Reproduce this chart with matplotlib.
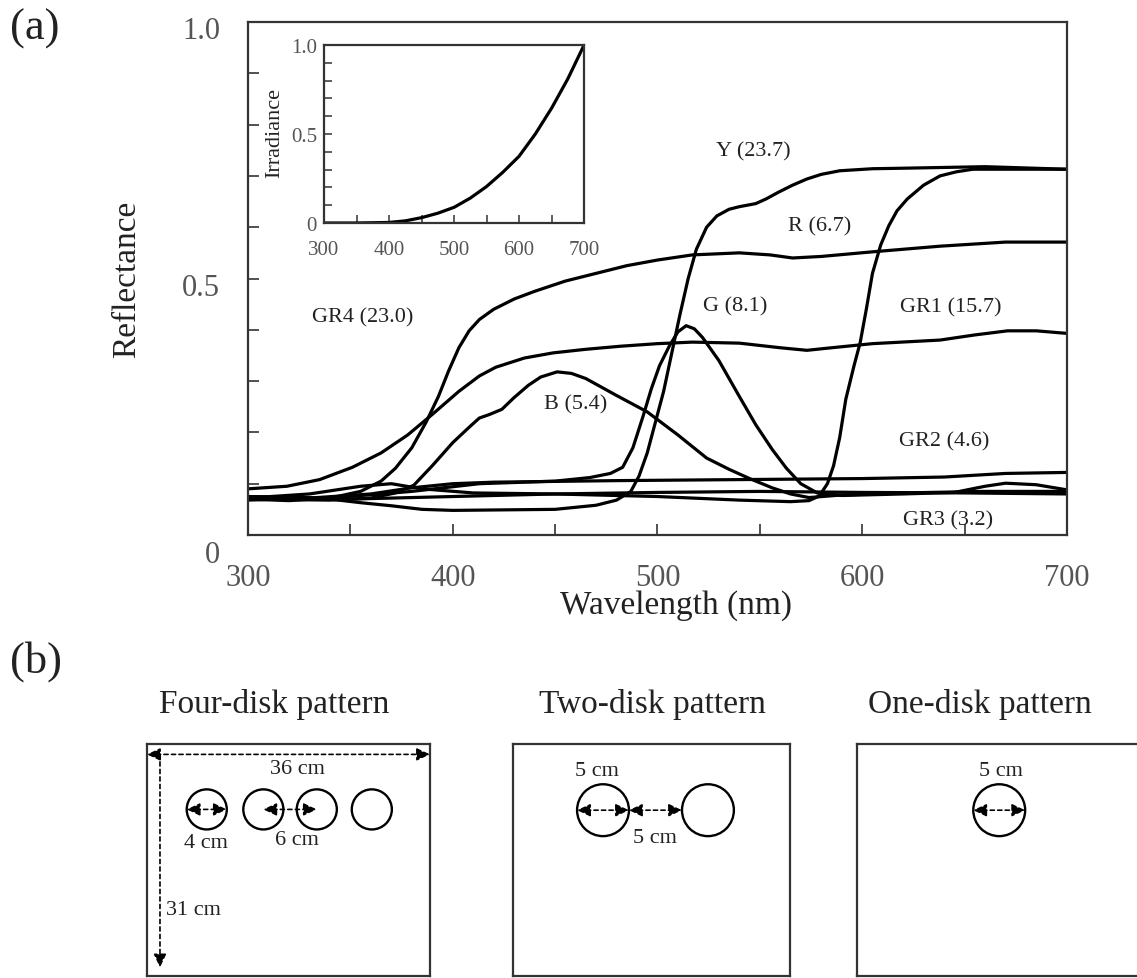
import numpy as np
import matplotlib.pyplot as plt
from matplotlib.patches import Circle
from matplotlib.transforms import ScaledTranslation

plt.rcParams['font.family'] = ['Liberation Serif', 'DejaVu Serif']


# %% 0 - reflectance spectra (wavelength in nm)
wl_gr4 = [300, 320, 340, 355, 365, 372, 380, 387, 393, 398, 403, 408, 413, 420, 430, 440, 455, 470, 485, 500, 517, 540, 555, 566, 580, 605, 638, 670, 700]
r_gr4  = [0.070, 0.067, 0.072, 0.085, 0.105, 0.130, 0.170, 0.220, 0.270, 0.320, 0.365, 0.398, 0.420, 0.440, 0.460, 0.475, 0.495, 0.510, 0.525, 0.536, 0.546, 0.550, 0.546, 0.540, 0.543, 0.552, 0.563, 0.571, 0.571]

wl_gr1 = [300, 319, 335, 351, 365, 378, 390, 403, 413, 421, 435, 449, 465, 482, 500, 517, 540, 560, 573, 585, 605, 638, 655, 671, 685, 700]
r_gr1  = [0.090, 0.095, 0.108, 0.132, 0.160, 0.195, 0.235, 0.280, 0.310, 0.327, 0.345, 0.355, 0.362, 0.368, 0.373, 0.376, 0.374, 0.365, 0.360, 0.365, 0.373, 0.380, 0.390, 0.398, 0.398, 0.393]

wl_b = [300, 340, 360, 372, 381, 390, 400, 408, 413, 418, 424, 430, 437, 443, 451, 458, 465, 480, 495, 510, 524, 535, 545, 556, 565, 574, 590, 620, 660, 700]
r_b  = [0.070, 0.068, 0.072, 0.082, 0.097, 0.135, 0.180, 0.210, 0.228, 0.235, 0.245, 0.268, 0.292, 0.308, 0.318, 0.315, 0.305, 0.272, 0.240, 0.195, 0.150, 0.128, 0.110, 0.092, 0.080, 0.073, 0.078, 0.082, 0.085, 0.085]

wl_g = [300, 340, 380, 413, 450, 467, 477, 483, 488, 493, 497, 501, 506, 510, 514, 518, 522, 530, 540, 548, 556, 563, 570, 578, 590, 620, 645, 660, 670, 685, 700]
r_g  = [0.075, 0.072, 0.085, 0.100, 0.105, 0.112, 0.120, 0.132, 0.170, 0.232, 0.285, 0.330, 0.370, 0.396, 0.408, 0.402, 0.385, 0.340, 0.270, 0.215, 0.167, 0.130, 0.100, 0.082, 0.077, 0.080, 0.083, 0.095, 0.101, 0.098, 0.088]

wl_y = [300, 340, 355, 370, 385, 400, 450, 470, 480, 487, 491, 495, 499, 503, 507, 511, 515, 519, 524, 529, 535, 540, 548, 553, 559, 566, 573, 580, 589, 605, 620, 660, 700]
r_y  = [0.075, 0.070, 0.063, 0.057, 0.050, 0.048, 0.050, 0.058, 0.068, 0.085, 0.115, 0.160, 0.220, 0.280, 0.355, 0.430, 0.500, 0.557, 0.600, 0.622, 0.635, 0.640, 0.646, 0.655, 0.668, 0.682, 0.694, 0.703, 0.710, 0.714, 0.715, 0.718, 0.713]

wl_r = [300, 330, 355, 370, 385, 410, 450, 500, 540, 565, 574, 579, 583, 586, 589, 592, 596, 599, 602, 605, 609, 613, 617, 622, 630, 638, 646, 654, 700]
r_r  = [0.072, 0.080, 0.095, 0.100, 0.090, 0.082, 0.080, 0.075, 0.068, 0.065, 0.067, 0.076, 0.100, 0.135, 0.190, 0.265, 0.330, 0.375, 0.440, 0.510, 0.565, 0.603, 0.632, 0.655, 0.682, 0.700, 0.708, 0.713, 0.713]

wl_gr2 = [300, 330, 360, 380, 400, 420, 480, 540, 600, 640, 670, 700]
r_gr2  = [0.068, 0.072, 0.080, 0.092, 0.100, 0.103, 0.106, 0.108, 0.110, 0.113, 0.120, 0.122]

wl_gr3 = [300, 350, 400, 450, 500, 550, 600, 650, 700]
r_gr3  = [0.070, 0.070, 0.075, 0.080, 0.083, 0.085, 0.083, 0.082, 0.080]

curves = [(wl_gr4, r_gr4), (wl_gr1, r_gr1), (wl_b, r_b), (wl_g, r_g),
          (wl_y, r_y), (wl_r, r_r), (wl_gr2, r_gr2), (wl_gr3, r_gr3)]

label_text = ['Y (23.7)', 'R (6.7)', 'G (8.1)', 'GR1 (15.7)', 'GR4 (23.0)', 'B (5.4)', 'GR2 (4.6)', 'GR3 (3.2)']
label_wl   = [547, 579, 538, 643, 356, 460, 640, 642]
label_r    = [0.749, 0.602, 0.446, 0.444, 0.425, 0.255, 0.183, 0.029]

# inset: relative irradiance
wl_irr = [300, 350, 400, 425, 450, 475, 500, 525, 550, 575, 600, 625, 650, 675, 700]
irr    = [0.0, 0.0, 0.003, 0.012, 0.030, 0.055, 0.088, 0.140, 0.205, 0.285, 0.375, 0.500, 0.645, 0.810, 1.0]

# panel (b): disk layouts (cm-like drawing units)
four_x, four_y, four_r = [7.6, 14.8, 21.6, 28.6], 21.2, 2.55
two_x,  two_y,  two_r  = [11.45, 24.8], 21.1, 3.3
one_x,  one_y,  one_r  = [18.1], 21.1, 3.3


# %% 1 - figure and main axes
fig = plt.figure(figsize = (11.37, 9.79), dpi = 100)
tick_col = '#555555'
ink = '#222222'

ax = fig.add_axes([0.2181, 0.4525, 0.7203, 0.5240])
for wl, r in curves:
    ax.plot(wl, r, color = 'black', lw = 2.3, solid_joinstyle = 'round', solid_capstyle = 'round')

for t, x, y in zip(label_text, label_wl, label_r):
    ax.text(x, y, t, ha = 'center', va = 'center', fontsize = 16, color = ink)

ax.set_xlim(300, 700)
ax.set_ylim(0, 1.0)
ax.set_xticks([300, 400, 500, 600, 700])
ax.set_xticks(np.arange(350, 700, 100), minor = True)
ax.set_yticks([0, 0.5, 1.0])
ax.set_yticklabels(['0', '0.5', '1.0'])
ax.set_yticks(np.arange(0.1, 1.0, 0.1), minor = True)
ax.tick_params(which = 'both', direction = 'in', top = False, right = False, width = 1.2, length = 8, color = '#333333')
ax.tick_params(axis = 'x', labelsize = 22, pad = 20, labelcolor = tick_col)
ax.tick_params(axis = 'y', labelsize = 22, pad = 20, labelcolor = tick_col)
for s in ax.spines.values():
    s.set_linewidth(1.6)
    s.set_color('#333333')

# tick labels sit a little below their ticks in the original
for i, lab in enumerate(ax.get_yticklabels()):
    dy = -16 if i == 0 else -5
    lab.set_transform(lab.get_transform() + ScaledTranslation(0, dy / 100, fig.dpi_scale_trans))

ax.text(0.523, -0.136, 'Wavelength (nm)', transform = ax.transAxes, ha = 'center', va = 'center', fontsize = 24, color = ink)
ax.text(-0.148, 0.5, 'Reflectance', transform = ax.transAxes, rotation = 90, ha = 'center', va = 'center', fontsize = 24, color = ink)
fig.text(0.009, 0.971, '(a)', ha = 'left', va = 'center', fontsize = 32, color = ink)


# %% 2 - inset
axi = fig.add_axes([0.2850, 0.7712, 0.2287, 0.1818])
axi.plot(wl_irr, irr, color = 'black', lw = 2.3, solid_joinstyle = 'round')
axi.set_xlim(300, 700)
axi.set_ylim(0, 1.0)
axi.set_xticks([300, 400, 500, 600, 700])
axi.set_xticks(np.arange(350, 700, 100), minor = True)
axi.set_yticks([0, 0.5, 1.0])
axi.set_yticklabels(['0', '0.5', '1.0'])
axi.set_yticks(np.arange(0.1, 1.0, 0.1), minor = True)
axi.tick_params(which = 'both', direction = 'in', length = 6, width = 1.1, color = '#333333', top = False, right = False)
axi.tick_params(axis = 'x', labelsize = 15, pad = 12, labelcolor = tick_col)
axi.tick_params(axis = 'y', labelsize = 15, pad = 5, labelcolor = tick_col)
for s in axi.spines.values():
    s.set_linewidth(1.6)
    s.set_color('#333333')
axi.text(-0.19, 0.51, 'Irradiance', transform = axi.transAxes, rotation = 90, ha = 'center', va = 'center', fontsize = 16, color = ink)


# %% 3 - panel (b) disk patterns
px_per_unit = 7.86
fig_w_px, fig_h_px = 1137, 979


def dashed_arrow(a, x0, y0, x1, y1, style = '<|-|>'):
    a.annotate('', xy = (x1, y1), xytext = (x0, y0), annotation_clip = False,
               arrowprops = dict(arrowstyle = style + ',head_length=0.8,head_width=0.38',
                                 linestyle = (0, (2.5, 2)), lw = 1.2, color = 'black',
                                 shrinkA = 0, shrinkB = 0))


def pattern_axes(rect):
    a = fig.add_axes(rect)
    a.set_xlim(0, rect[2] * fig_w_px / px_per_unit)
    a.set_ylim(0, rect[3] * fig_h_px / px_per_unit)
    a.set_xticks([])
    a.set_yticks([])
    for s in a.spines.values():
        s.set_linewidth(1.6)
        s.set_color('#333333')
    return a


ax1 = pattern_axes([0.1293, 0.0020, 0.2489, 0.2370])
ax2 = pattern_axes([0.4512, 0.0020, 0.2436, 0.2370])
ax3 = pattern_axes([0.7537, 0.0020, 0.2600, 0.2370])

for a, xs, y, r in [(ax1, four_x, four_y, four_r), (ax2, two_x, two_y, two_r), (ax3, one_x, one_y, one_r)]:
    for x in xs:
        a.add_patch(Circle((x, y), r, fill = False, lw = 1.7, ec = 'black'))

# four-disk pattern
dashed_arrow(ax1, 0, 28.2, 36.0, 28.2)
dashed_arrow(ax1, 1.65, 28.2, 1.65, 1.1, style = '-|>')
dashed_arrow(ax1, four_x[0] - four_r, four_y, four_x[0] + four_r, four_y)
dashed_arrow(ax1, four_x[1], four_y, four_x[2], four_y)
ax1.text(19.2, 26.4, '36 cm', ha = 'center', va = 'center', fontsize = 16, color = ink)
ax1.text(7.5, 17.0, '4 cm', ha = 'center', va = 'center', fontsize = 16, color = ink)
ax1.text(19.1, 17.4, '6 cm', ha = 'center', va = 'center', fontsize = 16, color = ink)
ax1.text(2.4, 8.5, '31 cm', ha = 'left', va = 'center', fontsize = 16, color = ink)

# two-disk pattern
dashed_arrow(ax2, two_x[0] - two_r, two_y, two_x[0] + two_r, two_y)
dashed_arrow(ax2, two_x[0] + two_r, two_y, two_x[1] - two_r, two_y)
ax2.text(10.7, 26.2, '5 cm', ha = 'center', va = 'center', fontsize = 16, color = ink)
ax2.text(18.1, 17.6, '5 cm', ha = 'center', va = 'center', fontsize = 16, color = ink)

# one-disk pattern
dashed_arrow(ax3, one_x[0] - one_r, one_y, one_x[0] + one_r, one_y)
ax3.text(18.3, 26.2, '5 cm', ha = 'center', va = 'center', fontsize = 16, color = ink)

fig.text(0.009, 0.324, '(b)', ha = 'left', va = 'center', fontsize = 32, color = ink)
fig.text(0.241, 0.280, 'Four-disk pattern', ha = 'center', va = 'center', fontsize = 24, color = ink)
fig.text(0.5734, 0.280, 'Two-disk pattern', ha = 'center', va = 'center', fontsize = 24, color = ink)
fig.text(0.862, 0.280, 'One-disk pattern', ha = 'center', va = 'center', fontsize = 24, color = ink)

fig.savefig('out.png', dpi = 100, facecolor = 'white')
